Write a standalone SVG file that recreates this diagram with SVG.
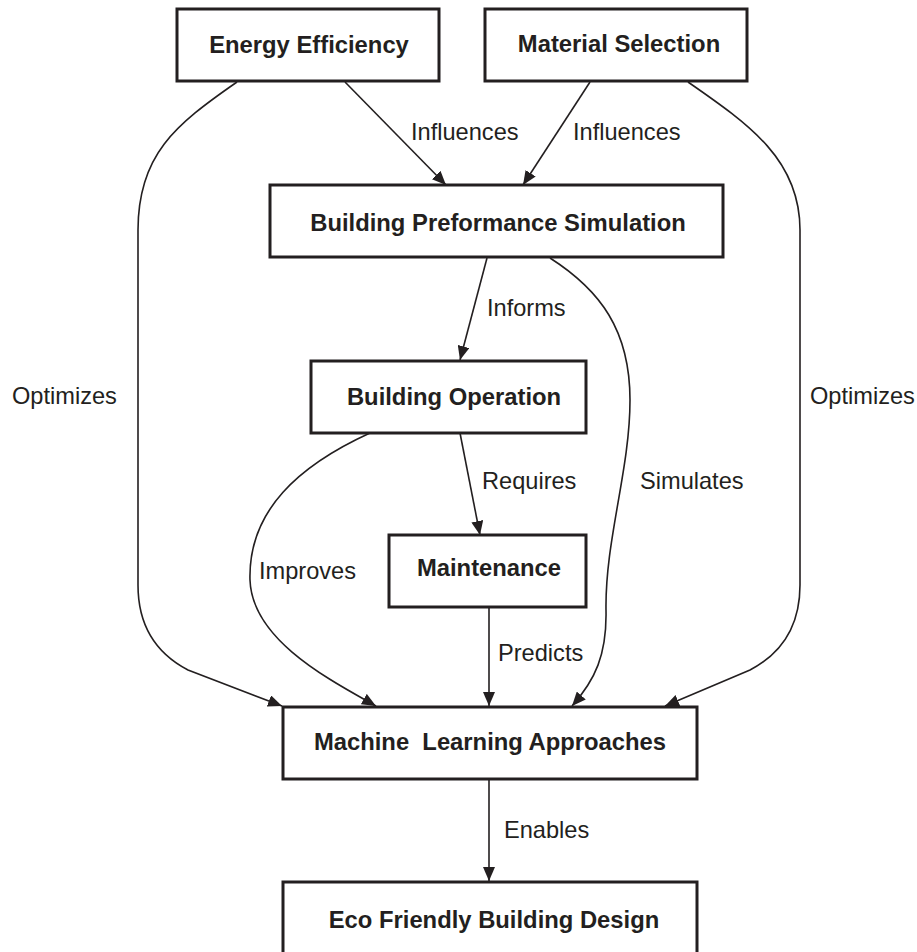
<svg xmlns="http://www.w3.org/2000/svg" width="917" height="952" viewBox="0 0 917 952">
  <style>
    .box { fill: #ffffff; stroke: #231f20; stroke-width: 3; }
    .title { font-family: "Liberation Sans", Arial, sans-serif; font-weight: bold; font-size: 23.8px; fill: #231f20; text-anchor: middle; white-space: pre; }
    .lbl { font-family: "Liberation Sans", Arial, sans-serif; font-size: 23.6px; fill: #231f20; }
    .edge { fill: none; stroke: #231f20; stroke-width: 1.6; marker-end: url(#arrow); }
  </style>
  <defs>
    <marker id="arrow" viewBox="0 0 14 12" refX="14" refY="6" markerWidth="14" markerHeight="12" markerUnits="userSpaceOnUse" orient="auto">
      <path d="M0,0 L14,6 L0,12 Z" fill="#231f20"/>
    </marker>
  </defs>
  <rect width="917" height="952" fill="#ffffff"/>

  <!-- connectors -->
  <g id="connectors">
    <path class="edge" d="M345,82 L446,185"/>
    <path class="edge" d="M590,82 L523,185"/>
    <path class="edge" d="M237,82 C175,125 138,155 138,230 L138,585 C138,635 165,658 188,670 L282,706"/>
    <path class="edge" d="M688,82 C750,125 800,160 800,230 L800,585 C800,635 773,658 750,670 L665,706"/>
    <path class="edge" d="M487,258 L460,360"/>
    <path class="edge" d="M550,258 C600,290 630,330 630,400 C630,470 605,540 606,610 C607,655 595,680 572,706"/>
    <path class="edge" d="M370,433 C300,465 248,510 250,580 C252,640 330,680 376,706"/>
    <path class="edge" d="M460,433 L480,535"/>
    <path class="edge" d="M489,607 L489,706"/>
    <path class="edge" d="M489,779 L489,881"/>
    <text class="lbl" x="411" y="140">Influences</text>
    <text class="lbl" x="573" y="140">Influences</text>
    <text class="lbl" x="487" y="316">Informs</text>
    <text class="lbl" x="12" y="404">Optimizes</text>
    <text class="lbl" x="810" y="404">Optimizes</text>
    <text class="lbl" x="482" y="489">Requires</text>
    <text class="lbl" x="640" y="489">Simulates</text>
    <text class="lbl" x="259" y="579">Improves</text>
    <text class="lbl" x="498" y="661">Predicts</text>
    <text class="lbl" x="504" y="838">Enables</text>
  </g>

  <!-- nodes -->
  <g id="energy-efficiency">
    <rect class="box" x="177" y="9" width="262" height="72"/>
    <text class="title" x="309" y="53">Energy Efficiency</text>
  </g>
  <g id="material-selection">
    <rect class="box" x="485" y="9" width="262" height="72"/>
    <text class="title" x="619" y="52">Material Selection</text>
  </g>
  <g id="building-performance-simulation">
    <rect class="box" x="270" y="185" width="453" height="72"/>
    <text class="title" x="498" y="231">Building Preformance Simulation</text>
  </g>
  <g id="building-operation">
    <rect class="box" x="311" y="361" width="275" height="72"/>
    <text class="title" x="454" y="405">Building Operation</text>
  </g>
  <g id="maintenance">
    <rect class="box" x="389" y="535" width="197" height="72"/>
    <text class="title" x="489" y="576">Maintenance</text>
  </g>
  <g id="machine-learning-approaches">
    <rect class="box" x="283" y="707" width="414" height="72"/>
    <text class="title" x="490" y="750" xml:space="preserve">Machine  Learning Approaches</text>
  </g>
  <g id="eco-friendly-building-design">
    <rect class="box" x="283" y="882" width="414" height="80"/>
    <text class="title" x="494" y="928">Eco Friendly Building Design</text>
  </g>
</svg>
